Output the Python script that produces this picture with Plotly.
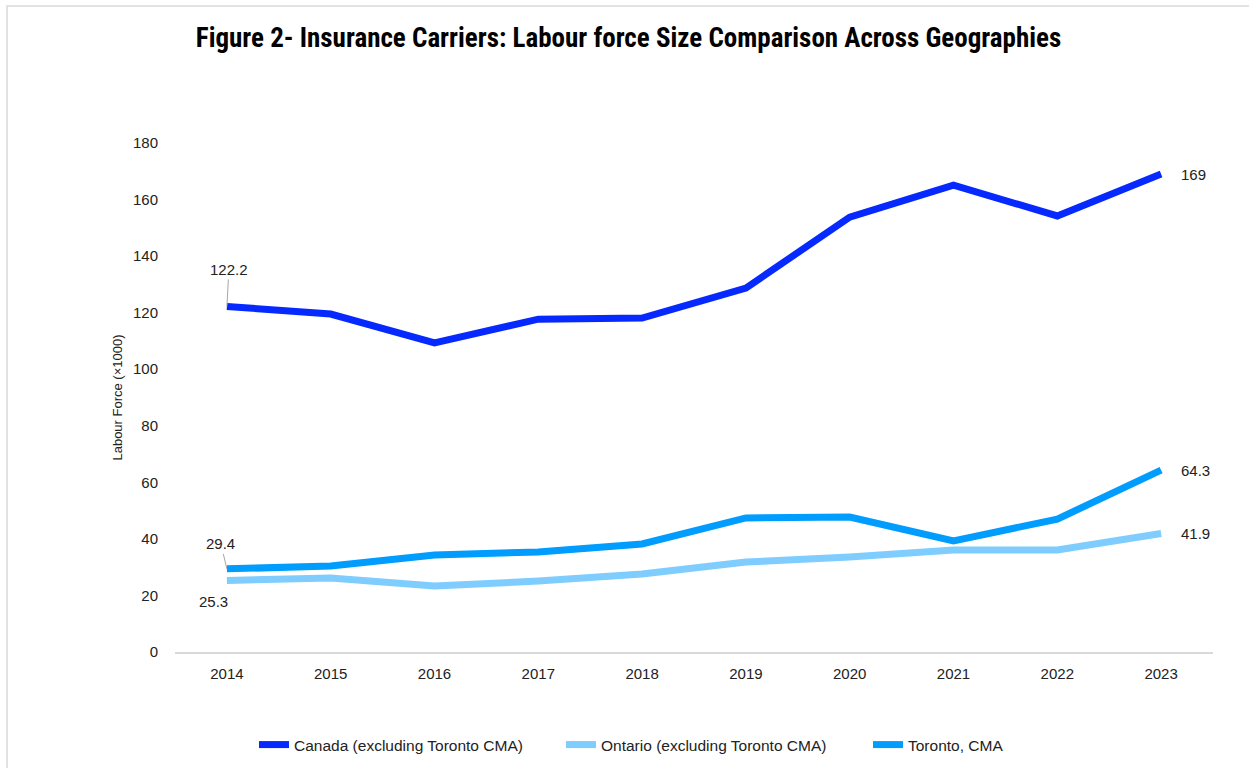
import plotly.graph_objects as go

years = ["2014", "2015", "2016", "2017", "2018", "2019", "2020", "2021", "2022", "2023"]
canada = [122.2, 119.5, 109.3, 117.7, 118.1, 128.7, 153.8, 165.1, 154.2, 169]
ontario = [25.3, 26.2, 23.3, 25.1, 27.6, 31.8, 33.6, 36.1, 36.1, 41.9]
toronto = [29.4, 30.4, 34.3, 35.4, 38.2, 47.4, 47.7, 39.3, 47.0, 64.3]

names = ["Canada (excluding Toronto CMA)", "Ontario (excluding Toronto CMA)", "Toronto, CMA"]
colors = ["#0529FF", "#7FCDFF", "#009DFF"]

title = "Figure 2- Insurance Carriers: Labour force Size Comparison Across Geographies"
ytitle = "Labour Force (×1000)"

NARROW = "Liberation Sans Narrow, Roboto Condensed, Arial Narrow, sans-serif"
SANS = "Liberation Sans, Arial, sans-serif"

fig = go.Figure()
for name, vals, col in zip(names, [canada, ontario, toronto], colors):
    fig.add_trace(go.Scatter(x=years, y=vals, name=name, mode="lines",
                             line=dict(color=col, width=7)))

first, last = 0, len(years) - 1
ann_font = dict(family=SANS, size=15, color="#222222")
annotations = [
    dict(x=first, y=canada[first], text=f"{canada[first]}", showarrow=True, arrowhead=0,
         arrowwidth=1, arrowcolor="#a6a6a6", ax=2, ay=-37, font=ann_font),
    dict(x=first, y=toronto[first], text=f"{toronto[first]}", showarrow=True, arrowhead=0,
         arrowwidth=1, arrowcolor="#a6a6a6", ax=-6, ay=-25, font=ann_font),
    dict(x=first, y=ontario[first], text=f"{ontario[first]}", showarrow=False,
         xshift=-13, yshift=-21, font=ann_font),
    dict(x=last, y=canada[last], text=f"{canada[last]:g}", showarrow=False,
         xanchor="left", xshift=18, font=ann_font),
    dict(x=last, y=toronto[last], text=f"{toronto[last]}", showarrow=False,
         xanchor="left", xshift=18, font=ann_font),
    dict(x=last, y=ontario[last], text=f"{ontario[last]}", showarrow=False,
         xanchor="left", xshift=18, font=ann_font),
]

L, R, T, B = 175, 36, 143, 116
PW, PH = 1249 - L - R, 768 - T - B

def px_x(px):
    return (px - L) / PW

def px_y(py):
    return (768 - B - py) / PH

fig.update_layout(
    width=1249, height=768,
    margin=dict(l=L, r=R, t=T, b=B, autoexpand=False),
    paper_bgcolor="white", plot_bgcolor="white",
    title=dict(text=f"<b>{title}</b>", x=0.5032, xanchor="center", y=1 - 38 / 768,
               yanchor="middle", font=dict(family=NARROW, size=27, color="#000000")),
    showlegend=True,
    legend=dict(orientation="h", x=px_x(254), xanchor="left", y=px_y(745), yanchor="middle",
                font=dict(family=SANS, size=15.5, color="#222222"),
                itemwidth=30, entrywidth=262, entrywidthmode="pixels",
                traceorder="normal", bgcolor="rgba(0,0,0,0)"),
    annotations=annotations,
    shapes=[dict(type="rect", xref="paper", yref="paper",
                 x0=px_x(7), x1=px_x(1265), y0=px_y(790), y1=px_y(6),
                 line=dict(color="#d9d9d9", width=1.5), layer="below")],
)

fig.update_xaxes(type="category", range=[-0.5, len(years) - 0.5], showgrid=False,
                 showline=True, linecolor="#d9d9d9", automargin=False,
                 linewidth=1.5, ticks="", ticklabelstandoff=7,
                 tickfont=dict(family=SANS, size=15, color="#222222"), zeroline=False)
fig.update_yaxes(range=[0, 180], dtick=20, showgrid=False, showline=False, zeroline=False,
                 ticks="", ticklabelstandoff=16, automargin=False,
                 tickfont=dict(family=SANS, size=15, color="#222222"),
                 title=dict(text=ytitle, standoff=7,
                            font=dict(family=SANS, size=13, color="#222222")))

fig.write_html("out.html", config={"displayModeBar": False},
               post_script="document.body.style.margin='0';")
